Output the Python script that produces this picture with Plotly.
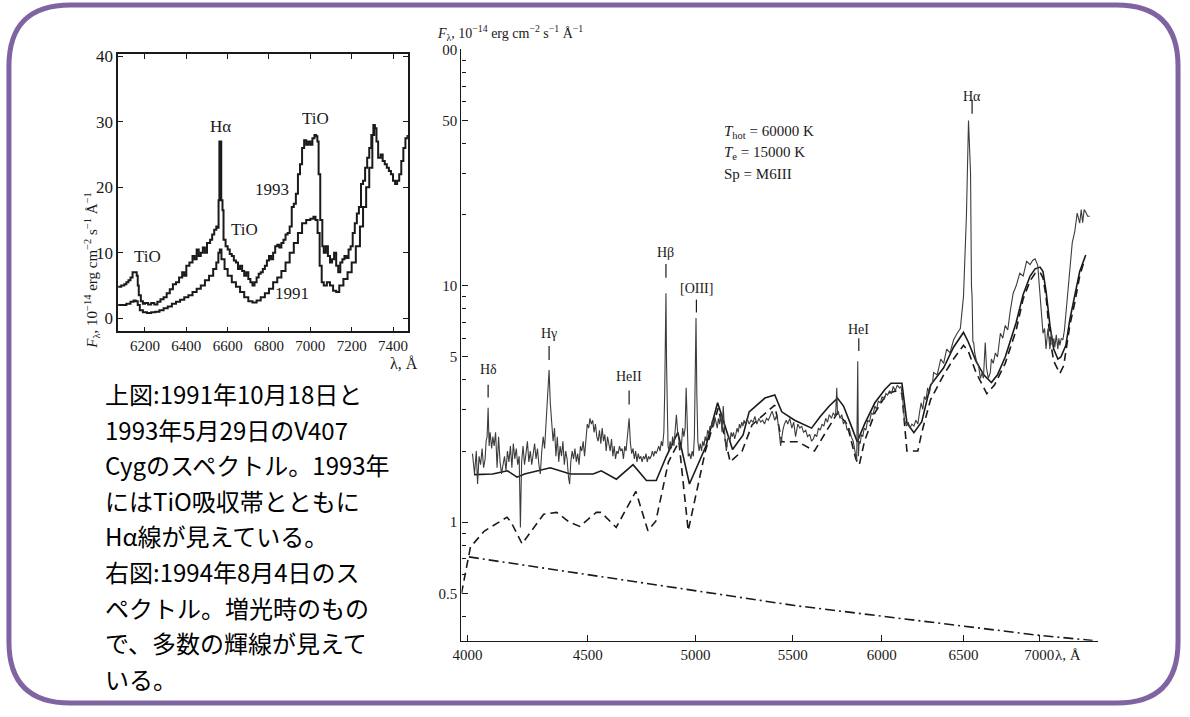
import math
import plotly.graph_objects as go

W, H = 1190, 717


def px(x):
    return x / W


def py(y):
    return 1 - y / H


SERIF = "Liberation Serif"
INK = "#1a1a1a"

# ---------------- upper-left panel: 1991 / 1993 spectra ----------------
lam_1993 = [6070, 6085, 6100, 6110, 6120, 6130, 6140, 6150, 6160, 6165, 6170, 6180, 6190, 6200,
            6215, 6230, 6245, 6260, 6275, 6290, 6305, 6320, 6335, 6350, 6365, 6380, 6390, 6400,
            6415, 6430, 6440, 6450, 6460, 6470, 6480, 6490, 6500, 6515, 6525, 6535, 6545, 6552,
            6556, 6560, 6565, 6569, 6575, 6580, 6590, 6600, 6610, 6620, 6630, 6640, 6650, 6660,
            6670, 6680, 6690, 6700, 6710, 6720, 6730, 6740, 6750, 6760, 6770, 6780, 6790, 6800,
            6810, 6820, 6830, 6840, 6850, 6860, 6870, 6880, 6890, 6900, 6910, 6920, 6930, 6940,
            6950, 6960, 6970, 6980, 6990, 7000, 7010, 7020, 7028, 7034, 7040, 7048, 7058, 7065,
            7075, 7085, 7095, 7105, 7115, 7125, 7135, 7145, 7155, 7165, 7175, 7185, 7195, 7205,
            7215, 7225, 7235, 7245, 7255, 7265, 7275, 7285, 7295, 7305, 7312, 7320, 7328, 7340,
            7350, 7360, 7370, 7380, 7390, 7400, 7410, 7420, 7430, 7440, 7450, 7460, 7470]
flux_1993 = [4.8, 5.0, 5.2, 5.5, 5.8, 6.2, 7.0, 7.0, 6.5, 5.0, 3.5, 2.6, 2.2, 2.3,
             2.1, 2.3, 2.1, 2.5, 2.9, 3.2, 3.8, 4.4, 5.2, 5.5, 6.2, 7.0, 6.5, 8.0,
             8.5, 9.5, 9.0, 10.5, 9.5, 10.0, 10.8, 10.0, 11.5, 12.0, 12.8, 13.5, 14.0, 13.8,
             18.0, 27.0, 27.0, 18.0, 16.5, 12.0, 11.0, 10.5, 9.8, 9.5, 8.8, 8.5, 7.5, 8.0,
             7.2, 6.5, 7.0, 6.0, 5.5, 5.0, 5.5, 6.2, 6.8, 7.0, 7.5, 8.0, 8.8, 9.5,
             9.0, 10.0, 11.0, 11.2, 10.8, 11.5, 12.0, 12.8, 13.0, 14.0, 17.0, 17.5, 19.0, 22.0,
             23.5, 26.0, 27.2, 26.5, 27.0, 26.5, 27.5, 28.0, 27.8, 27.0, 22.0, 15.0, 11.0, 10.0,
             11.0, 9.5, 8.5, 9.0, 10.0, 8.0, 7.0, 8.5, 9.0, 9.5, 9.2, 10.5, 11.0, 13.0,
             14.5, 16.0, 17.0, 20.5, 21.0, 23.0, 24.5, 26.0, 28.0, 29.5, 29.0, 27.0, 24.5, 25.0,
             24.0, 23.5, 23.0, 22.5, 22.0, 21.0, 20.5, 21.0, 22.0, 24.0, 26.0, 27.5, 28.0]

lam_1991 = [6070, 6090, 6110, 6130, 6145, 6155, 6165, 6175, 6190, 6210, 6230, 6250, 6270, 6290,
            6310, 6330, 6350, 6370, 6390, 6410, 6430, 6450, 6470, 6490, 6510, 6530, 6545, 6555,
            6562, 6570, 6585, 6600, 6620, 6640, 6660, 6680, 6700, 6720, 6740, 6760, 6780, 6800,
            6820, 6840, 6860, 6880, 6900, 6920, 6940, 6960, 6980, 7000, 7015, 7025, 7035, 7045,
            7055, 7065, 7080, 7095, 7110, 7125, 7140, 7160, 7180, 7200, 7220, 7240, 7255, 7270,
            7285, 7300, 7310]
flux_1991 = [2.0, 2.0, 2.2, 2.5, 2.7, 2.6, 2.0, 1.2, 0.9, 0.8, 0.9, 1.0, 1.2, 1.5,
             1.8, 2.2, 2.5, 2.8, 3.2, 3.5, 4.0, 4.5, 5.0, 5.8, 6.5, 7.5, 8.5, 10.0,
             10.5, 9.0, 7.5, 6.5, 5.5, 4.8, 4.0, 3.2, 2.6, 2.4, 2.7, 3.2, 3.8, 4.5,
             5.5, 6.2, 7.2, 8.5, 10.0, 11.5, 13.0, 14.5, 15.0, 15.2, 15.5, 15.0, 13.0, 8.0,
             5.5, 5.0, 5.5, 5.0, 4.2, 4.0, 5.0, 6.0, 7.0, 8.5, 11.0, 14.0, 17.0, 20.0,
             23.0, 28.0, 29.5]

left_xticks = [6200, 6400, 6600, 6800, 7000, 7200, 7400]
left_yticks = [0, 10, 20, 30, 40]

# ---------------- right panel: 1994 spectrum with model ----------------
obs_lam = [4020, 4028, 4035, 4040, 4046, 4052, 4058, 4064, 4070, 4074, 4078, 4082, 4086, 4090,
           4096, 4101, 4106, 4112, 4118, 4124, 4130, 4136, 4142, 4148, 4154, 4160, 4166, 4172,
           4178, 4184, 4190, 4196, 4202, 4208, 4213, 4218, 4224, 4230, 4236, 4242, 4248, 4254,
           4260, 4266, 4272, 4278, 4284, 4290, 4296, 4302, 4308, 4314, 4320, 4326, 4333, 4338,
           4344, 4350, 4356, 4362, 4368, 4374, 4380, 4386, 4392, 4398, 4404, 4410, 4416, 4421,
           4426, 4432, 4438, 4444, 4450, 4456, 4462, 4468, 4474, 4480, 4486, 4492, 4498, 4504,
           4510, 4516, 4522, 4528, 4534, 4540, 4546, 4552, 4558, 4564, 4570, 4576, 4582, 4588,
           4594, 4600, 4606, 4612, 4618, 4624, 4630, 4636, 4642, 4648, 4654, 4660, 4666, 4672,
           4678, 4686, 4692, 4698, 4704, 4710, 4716, 4722, 4728, 4734, 4740, 4746, 4752, 4758,
           4764, 4770, 4776, 4782, 4788, 4794, 4800, 4806, 4812, 4818, 4824, 4830, 4836, 4842,
           4848, 4852, 4855, 4858, 4861, 4864, 4868, 4872, 4878, 4884, 4890, 4896, 4902, 4908,
           4914, 4920, 4926, 4932, 4938, 4944, 4950, 4955, 4960, 4965, 4972, 4978, 4984, 4990,
           4995, 4999, 5003, 5007, 5012, 5018, 5024, 5030, 5036, 5042, 5048, 5054, 5060, 5066,
           5072, 5078, 5084, 5090, 5096, 5102, 5108, 5114, 5120, 5126, 5132, 5138, 5142, 5148,
           5154, 5160, 5166, 5172, 5178, 5184, 5190, 5196, 5202, 5208, 5214, 5220, 5226, 5232,
           5238, 5244, 5250, 5260, 5270, 5280, 5290, 5300, 5310, 5320, 5330, 5340, 5350, 5360,
           5370, 5380, 5390, 5404, 5415, 5425, 5435, 5447, 5455, 5465, 5473, 5484, 5495, 5505,
           5515, 5527, 5538, 5548, 5558, 5570, 5580, 5592, 5602, 5612, 5620, 5630, 5640, 5650,
           5660, 5670, 5680, 5690, 5700, 5712, 5722, 5735, 5742, 5746, 5750, 5760, 5770, 5780,
           5790, 5800, 5812, 5824, 5835, 5845, 5855, 5861, 5865, 5869, 5875, 5882, 5890, 5898,
           5908, 5918, 5928, 5940, 5950, 5960, 5970, 5980, 5992, 6002, 6014, 6025, 6035, 6046,
           6058, 6068, 6080, 6092, 6105, 6115, 6125, 6135, 6142, 6148, 6158, 6168, 6180, 6192,
           6204, 6216, 6226, 6236, 6246, 6256, 6266, 6276, 6286, 6296, 6306, 6313, 6335, 6357,
           6375, 6394, 6415, 6437, 6460, 6480, 6500, 6519, 6532, 6545, 6551, 6555, 6560, 6565,
           6572, 6583, 6596, 6609, 6620, 6628, 6640, 6648, 6660, 6667, 6673, 6680, 6692, 6706,
           6720, 6739, 6755, 6771, 6788, 6804, 6824, 6844, 6868, 6891, 6914, 6938, 6955, 6972,
           6990, 7006, 7016, 7026, 7037, 7047, 7060, 7074, 7084, 7094, 7101, 7108, 7118, 7129,
           7136, 7143, 7153, 7164, 7175, 7185, 7192, 7199, 7206, 7213, 7230, 7248, 7265, 7283,
           7294, 7304, 7315, 7326, 7340, 7355, 7362, 7369, 7384, 7398]
obs_flux = [1.95, 1.6, 2.0, 1.45, 1.9, 1.75, 2.05, 1.7, 1.85, 2.2, 2.3, 3.05, 2.1, 2.4,
            2.05, 2.3, 2.1, 2.4, 1.7, 2.3, 1.8, 1.6, 1.75, 1.9, 1.65, 2.0, 1.8, 2.1,
            1.7, 2.15, 1.85, 2.05, 1.75, 1.9, 0.95, 1.8, 2.1, 1.75, 1.95, 2.2, 1.8, 2.0,
            1.75, 1.95, 2.15, 1.85, 2.05, 1.75, 1.6, 2.0, 2.3, 2.05, 2.6, 3.0, 4.4, 3.2,
            2.6, 2.2, 2.5, 1.9, 2.3, 1.8, 2.1, 1.9, 2.2, 1.75, 2.0, 1.85, 1.55, 1.45,
            1.8, 2.0, 1.85, 2.05, 1.8, 1.95, 1.75, 2.1, 2.0, 2.2, 1.9, 2.35, 2.6, 2.5,
            2.75, 2.6, 2.7, 2.4, 2.6, 2.3, 2.2, 2.45, 2.15, 2.5, 2.2, 2.35, 2.0, 2.3,
            2.1, 2.0, 2.25, 1.9, 2.1, 1.85, 2.0, 1.95, 2.1, 2.0, 2.05, 1.85, 2.1, 2.0,
            2.3, 2.75, 2.15, 1.95, 2.05, 1.85, 2.0, 1.8, 1.95, 1.85, 1.9, 1.8, 1.9, 1.85,
            1.95, 1.8, 1.9, 1.85, 1.9, 2.0, 1.9, 2.0, 1.95, 2.05, 2.1, 2.0, 2.2, 2.1,
            2.4, 3.5, 5.5, 9.3, 4.6, 2.6, 2.1, 2.0, 2.2, 2.05, 2.3, 2.1, 2.6, 2.85,
            2.4, 2.2, 2.05, 2.1, 2.5, 2.3, 2.5, 3.7, 2.5, 1.9, 1.95, 1.85, 2.0, 1.9,
            2.3, 4.5, 7.3, 3.5, 2.2, 2.0, 2.15, 2.0, 2.2, 2.1, 2.3, 2.2, 2.45, 2.35,
            2.55, 2.5, 2.7, 2.55, 2.8, 2.65, 2.5, 2.75, 2.6, 2.9, 2.4, 3.1, 2.5, 2.2,
            2.0, 2.25, 2.3, 2.2, 2.4, 2.3, 2.4, 2.25, 2.35, 2.5, 2.4, 2.6, 2.5, 2.65,
            2.55, 2.7, 2.6, 2.75, 2.6, 2.7, 2.65, 2.8, 2.6, 2.75, 2.65, 2.7, 2.6, 2.75,
            2.7, 2.8, 2.95, 2.7, 2.85, 2.5, 2.1, 2.45, 2.6, 2.7, 2.6, 2.75, 2.5, 2.65,
            2.3, 2.6, 2.5, 2.55, 2.4, 2.45, 2.3, 2.35, 2.2, 2.25, 2.35, 2.3, 2.5, 2.45,
            2.6, 2.55, 2.75, 2.65, 2.85, 2.75, 2.9, 2.8, 3.7, 2.85, 2.95, 2.75, 2.85, 2.6,
            2.7, 2.45, 2.5, 2.3, 2.2, 2.0, 1.8, 4.8, 1.9, 2.2, 2.15, 2.35, 2.3, 2.5,
            2.45, 2.7, 2.65, 2.9, 2.85, 3.1, 3.0, 3.25, 3.2, 3.4, 3.3, 3.5, 3.45, 3.6,
            3.5, 3.75, 3.6, 3.8, 3.7, 3.75, 3.3, 2.7, 2.6, 2.55, 2.65, 2.5, 2.6, 2.55,
            2.7, 2.6, 2.9, 3.2, 3.0, 3.4, 3.3, 3.7, 3.5, 3.8, 3.9, 4.3, 4.2, 4.9,
            4.7, 5.4, 5.2, 5.9, 6.3, 6.6, 9.0, 20.0, 50.0, 30.0, 10.0, 9.0, 5.8, 5.76,
            5.2, 4.8, 4.6, 4.06, 4.3, 4.06, 5.76, 4.5, 4.06, 4.2, 4.3, 4.9, 4.7, 5.2,
            5.0, 6.3, 6.0, 6.8, 6.5, 7.8, 9.3, 10.0, 11.3, 11.0, 12.7, 12.3, 12.8, 13.0,
            12.2, 9.1, 7.5, 6.3, 6.6, 5.4, 6.6, 5.4, 6.3, 5.6, 6.0, 5.5, 6.2, 5.4,
            6.0, 5.6, 6.0, 5.9, 6.5, 7.7, 8.6, 9.1, 10.5, 11.8, 15.2, 17.0, 20.3, 18.4,
            21.0, 18.5, 21.0, 20.5, 19.7, 19.7]

model_lam = [4026, 4100, 4160, 4199, 4230, 4338, 4424, 4524, 4560, 4628, 4704, 4766, 4812,
             4860, 4915, 4971, 5052, 5110, 5185, 5239, 5270, 5352, 5404, 5441, 5510, 5602,
             5650, 5700, 5746, 5780, 5820, 5858, 5900, 5960, 6020, 6055, 6120, 6150, 6192,
             6240, 6294, 6375, 6437, 6500, 6530, 6580, 6630, 6680, 6720, 6771, 6844, 6891,
             6938, 6972, 7006, 7026, 7047, 7074, 7100, 7129, 7150, 7185, 7213, 7248, 7283,
             7326]
model_flux = [1.59, 1.6, 1.65, 1.55, 1.6, 1.7, 1.6, 1.6, 1.65, 1.52, 1.75, 1.5, 1.5,
              1.9, 2.4, 1.45, 2.1, 3.2, 2.03, 2.34, 2.93, 3.35, 3.45, 2.93, 2.7, 2.5,
              2.8, 3.1, 3.35, 3.1, 2.6, 2.19, 2.6, 3.2, 3.65, 3.87, 3.87, 2.63, 2.39,
              2.66, 3.8, 4.5, 5.5, 6.35, 5.8, 4.8, 4.2, 3.9, 4.2, 5.0, 7.0, 9.2,
              11.0, 11.8, 12.0, 11.5, 9.5, 6.8, 5.4, 4.9, 5.0, 5.6, 7.2, 9.0, 11.5,
              13.5]

cool_lam = [3977, 4012, 4067, 4158, 4175, 4220, 4310, 4365, 4420, 4465, 4538, 4560, 4627,
            4717, 4773, 4810, 4870, 4920, 4965, 5049, 5113, 5173, 5234, 5285, 5404, 5441,
            5527, 5618, 5680, 5746, 5800, 5850, 5870, 5900, 5960, 6030, 6091, 6120, 6140,
            6150, 6216, 6240, 6294, 6375, 6437, 6500, 6530, 6580, 6650, 6700, 6771, 6844,
            6891, 6938, 6972, 7006, 7026, 7047, 7074, 7100, 7143, 7170, 7213, 7248, 7283,
            7320]
cool_flux = [0.5, 0.785, 0.917, 1.05, 1.0, 0.81, 1.08, 1.10, 1.0, 0.96, 1.10, 1.10, 0.95,
             1.35, 0.92, 1.01, 1.8, 2.19, 0.92, 2.0, 3.04, 1.8, 2.0, 2.58, 3.13, 2.19,
             2.19, 2.0, 2.4, 2.9, 2.6, 1.85, 1.75, 2.2, 2.9, 3.5, 3.6, 3.5, 2.4,
             2.0, 2.0, 2.4, 3.3, 4.2, 4.9, 5.6, 5.3, 4.3, 3.5, 3.8, 4.7, 6.5,
             8.8, 10.5, 11.3, 11.4, 10.8, 9.0, 6.0, 4.8, 4.26, 4.6, 6.8, 8.5, 11.0,
             13.0]

hot_lam = [4006, 5000, 5510, 7000, 7376]
hot_flux = [0.713, 0.513, 0.444, 0.332, 0.316]

right_xticks = [4000, 4500, 5000, 5500, 6000, 6500, 7000]
right_yticks = [0.5, 1, 5, 10, 50, 100]
right_yticktext = ["0.5", "1", "5", "10", "50", "00"]
right_yminor = [0.4, 0.6, 0.7, 0.8, 0.9, 2, 3, 4, 6, 7, 8, 9, 20, 30, 40, 60, 70, 80, 90]

# emission-line identifications: wavelength, label row and tick span (page pixels)
line_ids = ["Hδ", "Hγ", "HeII", "Hβ", "[OIII]", "HeI", "Hα"]
line_lam = [4082, 4333, 4686, 4858, 5005, 5867, 6555]
line_label_y = [374, 337, 381, 255, 292, 333, 88]
line_tick_y = [(389, 402), (350, 364), (395, 409), (267, 281), (303, 316), (342, 355), (101, 115)]

caption = [
    "上図:1991年10月18日と",
    "1993年5月29日のV407",
    "Cygのスペクトル。1993年",
    "にはTiO吸収帯とともに",
    "Hα線が見えている。",
    "右図:1994年8月4日のス",
    "ペクトル。増光時のもの",
    "で、多数の輝線が見えて",
    "いる。",
]

fig = go.Figure()

fig.add_trace(go.Scatter(x=lam_1993, y=flux_1993, mode="lines", line_shape="hv",
                         line=dict(color=INK, width=2), xaxis="x", yaxis="y"))
fig.add_trace(go.Scatter(x=lam_1991, y=flux_1991, mode="lines", line_shape="hv",
                         line=dict(color=INK, width=2), xaxis="x", yaxis="y"))

fig.add_trace(go.Scatter(x=hot_lam, y=hot_flux, mode="lines",
                         line=dict(color=INK, width=1.6, dash="10px,4px,2px,4px"),
                         xaxis="x2", yaxis="y2"))
fig.add_trace(go.Scatter(x=cool_lam, y=cool_flux, mode="lines",
                         line=dict(color=INK, width=1.6, dash="8px,5px"),
                         xaxis="x2", yaxis="y2"))
fig.add_trace(go.Scatter(x=model_lam, y=model_flux, mode="lines",
                         line=dict(color=INK, width=1.6), xaxis="x2", yaxis="y2"))
fig.add_trace(go.Scatter(x=obs_lam, y=obs_flux, mode="lines",
                         line=dict(color="#3c3c3c", width=1.1), xaxis="x2", yaxis="y2"))

tickfont = dict(family=SERIF, size=15, color=INK)

fig.update_layout(
    autosize=True,
    margin=dict(l=0, r=0, t=0, b=0),
    paper_bgcolor="white", plot_bgcolor="white",
    showlegend=False,
    xaxis=dict(domain=[px(118), px(410)], range=[6070, 7472], tickvals=left_xticks,
               ticks="inside", ticklen=5, tickcolor=INK, showline=True, linecolor=INK,
               linewidth=1.5, mirror="ticks", showgrid=False, zeroline=False,
               tickfont=tickfont, anchor="y"),
    yaxis=dict(domain=[py(335), py(55)], range=[-2, 40.3], tickvals=left_yticks,
               ticks="inside", ticklen=5, tickcolor=INK, showline=True, linecolor=INK,
               linewidth=1.5, mirror="ticks", showgrid=False, zeroline=False,
               tickfont=dict(family=SERIF, size=17, color=INK), anchor="x"),
    xaxis2=dict(type="log", domain=[px(464), px(1105)],
                range=[math.log10(3977), math.log10(7412)], tickvals=right_xticks,
                ticktext=[str(v) for v in right_xticks],
                ticks="inside", ticklen=6, tickcolor=INK, showline=True, linecolor=INK,
                linewidth=1.3, showgrid=False, zeroline=False, tickfont=tickfont,
                anchor="y2"),
    yaxis2=dict(type="log", domain=[py(648), py(50)],
                range=[math.log10(0.315), 2], tickvals=right_yticks,
                ticktext=right_yticktext,
                ticks="inside", ticklen=6, tickcolor=INK, showline=True, linecolor=INK,
                linewidth=1.3, showgrid=False, zeroline=False, tickfont=tickfont,
                minor=dict(tickvals=right_yminor, ticks="inside", ticklen=4,
                           tickcolor=INK, showgrid=False),
                anchor="x2"),
)

ann = []
# left-panel labels
left_labels = [("Hα", 6563, 29.3), ("TiO", 7026, 30.5), ("TiO", 6680, 13.6),
               ("TiO", 6210, 9.4), ("1993", 6814, 19.6), ("1991", 6910, 3.8)]
for txt, lx, ly in left_labels:
    ann.append(dict(x=lx, y=ly, xref="x", yref="y", text=txt, showarrow=False,
                    font=dict(family=SERIF, size=17, color=INK)))
ann.append(dict(x=px(80), y=py(192), xref="paper", yref="paper", textangle=-90,
                text="<i>F</i><sub>λ</sub>, 10<sup>−14</sup> erg cm<sup>−2</sup> s<sup>−1</sup> Å<sup>−1</sup>",
                showarrow=False, font=dict(family=SERIF, size=15, color=INK)))
ann.append(dict(x=px(390), y=py(368), xref="paper", yref="paper", text="λ, Å",
                showarrow=False, font=dict(family=SERIF, size=16, color=INK)))

# right-panel labels
ann.append(dict(x=px(437), y=py(33), xref="paper", yref="paper", xanchor="left",
                yanchor="middle",
                text="<i>F</i><sub>λ</sub>, 10<sup>−14</sup> erg cm<sup>−2</sup> s<sup>−1</sup> Å<sup>−1</sup>",
                showarrow=False, font=dict(family=SERIF, size=14, color=INK)))
ann.append(dict(x=px(1090), y=py(673), xref="paper", yref="paper", text="λ, Å",
                showarrow=False, font=dict(family=SERIF, size=15, color=INK)))
params = ["<i>T</i><sub>hot</sub> = 60000 K", "<i>T</i><sub>e</sub> = 15000 K", "Sp = M6III"]
for i, t in enumerate(params):
    ann.append(dict(x=px(726), y=py(122 + 22 * i), xref="paper", yref="paper",
                    xanchor="left", text=t, showarrow=False,
                    font=dict(family=SERIF, size=15, color=INK)))

shapes = []
for name, lx, ly, (t0, t1) in zip(line_ids, line_lam, line_label_y, line_tick_y):
    ann.append(dict(x=math.log10(lx), y=py(ly), xref="x2", yref="paper", text=name,
                    showarrow=False, font=dict(family=SERIF, size=14, color=INK)))
    shapes.append(dict(type="line", xref="x2", yref="paper", x0=lx, x1=lx,
                       y0=py(t1), y1=py(t0), line=dict(color=INK, width=1.2)))

for i, line in enumerate(caption):
    ann.append(dict(x=px(103), y=py(398 + 36 * i), xref="paper", yref="paper",
                    xanchor="left", yanchor="middle", text=line, showarrow=False,
                    font=dict(family="Noto Sans CJK JP", size=24, color="black")))

# rounded slide frame
x0, x1, y0, y1, r = 8, 1186, 5, 711, 62
pts = [("M", [(x0 + r, y0)]), ("L", [(x1 - r, y0)]), ("Q", [(x1, y0), (x1, y0 + r)]),
       ("L", [(x1, y1 - r)]), ("Q", [(x1, y1), (x1 - r, y1)]), ("L", [(x0 + r, y1)]),
       ("Q", [(x0, y1), (x0, y1 - r)]), ("L", [(x0, y0 + r)]), ("Q", [(x0, y0), (x0 + r, y0)])]
path = " ".join(cmd + " " + " ".join(f"{px(a):.5f},{py(b):.5f}" for a, b in p) for cmd, p in pts) + " Z"
shapes.append(dict(type="path", xref="paper", yref="paper", path=path,
                   line=dict(color="#8064A2", width=5), layer="above"))

fig.update_layout(annotations=ann, shapes=shapes)
# negative margins cancel the page's default body margin around the plot div
fig.write_html("out.html", default_width=f"{W}px",
               default_height=f"{H}px; margin:-8px")
